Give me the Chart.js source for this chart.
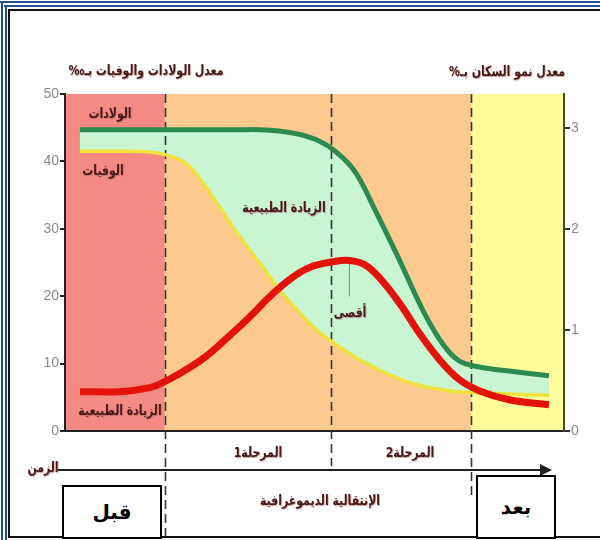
<!DOCTYPE html>
<html lang="ar">
<head>
<meta charset="utf-8">
<title>التحول الديموغرافي</title>
<script src="https://cdn.jsdelivr.net/npm/chart.js@4/dist/chart.umd.min.js"></script>
<style>
  body { margin: 0; background: #fff; }
  #wrap { position: relative; width: 600px; height: 540px; overflow: hidden; background: #fff; }
  #chart { position: absolute; left: 0; top: 0; }
  .lbl {
    position: absolute; white-space: nowrap; direction: rtl;
    font-family: "DejaVu Sans", sans-serif; font-weight: bold; font-size: 14px;
    color: #4a1818; text-shadow: 1px 1px 1px rgba(150, 90, 90, 0.55);
    transform: translate(-50%, -50%) scaleX(0.78);
  }
  .box {
    position: absolute; border: 2px solid #000; background: #fff;
    font-family: "DejaVu Sans", sans-serif; font-weight: bold; font-size: 20px;
    display: flex; align-items: center; justify-content: center; direction: rtl;
  }
  .frame { position: absolute; }
</style>
</head>
<body>
<div id="wrap">
  <canvas id="chart" width="600" height="540"></canvas>

  <!-- page frame -->
  <div class="frame" style="left:0;top:1px;width:600px;height:2px;background:#1f4f8f"></div>
  <div class="frame" style="left:4px;top:5px;width:596px;height:2px;background:#1f4f8f"></div>
  <div class="frame" style="left:8px;top:9px;width:592px;height:2px;background:#111"></div>
  <div class="frame" style="left:1px;top:1px;width:2px;height:539px;background:#1f4f8f"></div>
  <div class="frame" style="left:5px;top:5px;width:2px;height:535px;background:#1f4f8f"></div>
  <div class="frame" style="left:8px;top:9px;width:2px;height:529px;background:#111"></div>
  <div class="frame" style="left:8px;top:536px;width:592px;height:2px;background:#111"></div>

  <!-- axis titles -->
  <div class="lbl" style="left:146px;top:70px;">معدل الولادات والوفيات بـ‰</div>
  <div class="lbl" style="left:507px;top:71px;">معدل نمو السكان بـ%</div>

  <!-- in-plot labels -->
  <div class="lbl" style="left:110px;top:113px;">الولادات</div>
  <div class="lbl" style="left:103px;top:170px;">الوفيات</div>
  <div class="lbl" style="left:284px;top:207px;">الزيادة الطبيعية</div>
  <div class="lbl" style="left:350px;top:312px;">أقصى</div>
  <div class="lbl" style="left:120px;top:410px;">الزيادة الطبيعية</div>

  <!-- phases and time axis -->
  <div class="lbl" style="left:258px;top:452px;">المرحلة1</div>
  <div class="lbl" style="left:410px;top:452px;">المرحلة2</div>
  <div class="lbl" style="left:43px;top:467px;">الزمن</div>
  <div class="frame" style="left:58px;top:469px;width:484px;height:2px;background:#222"></div>
  <div class="frame" style="left:540px;top:464px;width:0;height:0;border-top:6px solid transparent;border-bottom:6px solid transparent;border-left:12px solid #222"></div>
  <div class="lbl" style="left:320px;top:500px;">الإنتقالية الديموغرافية</div>

  <div class="box" style="left:62px;top:485px;width:96px;height:50px;">قبل</div>
  <div class="box" style="left:476px;top:475px;width:76px;height:60px;">بعد</div>
</div>

<script>
// ============================================
// DATA
// ============================================

// time axis runs 0..100 (arbitrary units, left to right)
const timeX = [3, 11, 17, 20, 24, 27, 31, 35, 39, 43, 47, 51, 54, 58, 62, 67, 72, 76, 79, 83, 89, 97];

// birth and death rates, per mille (left axis)
const birthRate = [44.7, 44.7, 44.7, 44.7, 44.7, 44.7, 44.7, 44.7, 44.7, 44.5, 44.0, 43.0, 41.6, 38.6, 33.0, 25.4, 17.5, 12.6, 10.4, 9.5, 8.9, 8.2];
const deathRate = [41.5, 41.5, 41.4, 41.0, 39.8, 37.4, 33.2, 28.8, 24.9, 20.9, 17.5, 14.6, 13.0, 11.0, 9.4, 7.7, 6.6, 6.1, 5.8, 5.7, 5.5, 5.3];

// population growth rate, percent (right axis)
const growthX = [3, 11, 17, 20, 24, 28, 32, 37, 41, 45, 49, 54, 57, 60, 63, 67, 71, 75, 79, 83, 89, 97];
const growthRate = [0.39, 0.39, 0.43, 0.49, 0.60, 0.73, 0.90, 1.13, 1.33, 1.50, 1.62, 1.68, 1.69, 1.65, 1.52, 1.27, 0.97, 0.71, 0.51, 0.40, 0.31, 0.26];

// tick labels
const rateTicks = [0, 10, 20, 30, 40, 50];
const growthTicks = [0, 1, 2, 3];

// phase boundaries on the time axis (before / transition / after)
const phaseEdges = [0, 20, 81.4, 100];
// dashed dividers on the time axis
const dividers = [20, 53.4, 81.4];

// ============================================
// HELPERS
// ============================================

function toPoints(xs, ys) {
    return xs.map((x, i) => ({ x: x, y: ys[i] }));
}

const bandColors = ['#f48a84', '#fcc98e', '#fefb9c'];
const dividerEnds = [536, 466, 500]; // how far below the plot each dashed line runs

// background bands, dashed dividers and the "peak" marker
const phasePlugin = {
    id: 'phases',
    beforeDraw(chart) {
        const { ctx, chartArea: a, scales: { x } } = chart;
        ctx.save();
        for (let i = 0; i < bandColors.length; i++) {
            const x0 = x.getPixelForValue(phaseEdges[i]);
            const x1 = x.getPixelForValue(phaseEdges[i + 1]);
            ctx.fillStyle = bandColors[i];
            ctx.fillRect(x0, a.top, x1 - x0, a.bottom - a.top);
        }
        ctx.restore();
    },
    beforeDatasetsDraw(chart) {
        const { ctx, chartArea: a, scales: { x, y1 } } = chart;
        ctx.save();
        ctx.strokeStyle = '#333';
        ctx.lineWidth = 1.6;
        ctx.setLineDash([9, 5]);
        dividers.forEach((d, i) => {
            const px = Math.round(x.getPixelForValue(d)) + 0.5;
            ctx.beginPath();
            ctx.moveTo(px, a.top);
            ctx.lineTo(px, dividerEnds[i]);
            ctx.stroke();
        });
        // thin marker under the growth peak
        const iMax = growthRate.indexOf(Math.max(...growthRate));
        const px = x.getPixelForValue(growthX[iMax]);
        const py = y1.getPixelForValue(growthRate[iMax]);
        ctx.setLineDash([]);
        ctx.strokeStyle = '#888';
        ctx.lineWidth = 1;
        ctx.beginPath();
        ctx.moveTo(px, py);
        ctx.lineTo(px, py + 36);
        ctx.stroke();
        ctx.restore();
    }
};

// ============================================
// CHART
// ============================================

const tickFont = { family: '"Liberation Sans Narrow", "Liberation Sans", sans-serif', size: 14 };

new Chart(document.getElementById('chart').getContext('2d'), {
    type: 'line',
    data: {
        datasets: [
            {
                label: 'معدل النمو',
                data: toPoints(growthX, growthRate),
                yAxisID: 'y1',
                borderColor: '#e3120b',
                borderWidth: 7,
                pointRadius: 0,
                tension: 0.4,
                fill: false
            },
            {
                label: 'الولادات',
                data: toPoints(timeX, birthRate),
                yAxisID: 'y',
                borderColor: '#2b8a4f',
                borderWidth: 5,
                pointRadius: 0,
                tension: 0.4,
                fill: '+1',
                backgroundColor: '#c9f5d2'
            },
            {
                label: 'الوفيات',
                data: toPoints(timeX, deathRate),
                yAxisID: 'y',
                borderColor: '#f0e23a',
                borderWidth: 3.5,
                pointRadius: 0,
                tension: 0.4,
                fill: false
            }
        ]
    },
    options: {
        responsive: false,
        animation: false,
        devicePixelRatio: 1,
        layout: { padding: { left: 0, right: 0, top: 94, bottom: 109 } },
        plugins: {
            legend: { display: false },
            tooltip: { enabled: false },
            filler: { drawTime: 'beforeDatasetsDraw' }
        },
        scales: {
            x: {
                type: 'linear',
                min: 0,
                max: 100,
                ticks: { display: false },
                grid: { display: false },
                border: { display: true, color: '#222', width: 2 },
                afterFit(scale) { scale.height = 0; }
            },
            y: {
                position: 'left',
                min: 0,
                max: 50,
                afterBuildTicks(scale) { scale.ticks = rateTicks.map(v => ({ value: v })); },
                ticks: { color: '#8a8a8a', font: tickFont, padding: 1 },
                grid: { display: true, drawOnChartArea: false, drawTicks: true, tickLength: 5, color: '#222', lineWidth: 2 },
                border: { display: true, color: '#222', width: 2 },
                afterFit(scale) { scale.width = 65; }
            },
            y1: {
                position: 'right',
                min: 0,
                max: 3.34,
                afterBuildTicks(scale) { scale.ticks = growthTicks.map(v => ({ value: v })); },
                ticks: { color: '#8a8a8a', font: tickFont, padding: 1 },
                grid: { display: true, drawOnChartArea: false, drawTicks: true, tickLength: 6, color: '#333', lineWidth: 2 },
                border: { display: true, color: '#4a4a2a', width: 2 },
                afterFit(scale) { scale.width = 36; }
            }
        }
    },
    plugins: [phasePlugin]
});
</script>
</body>
</html>
